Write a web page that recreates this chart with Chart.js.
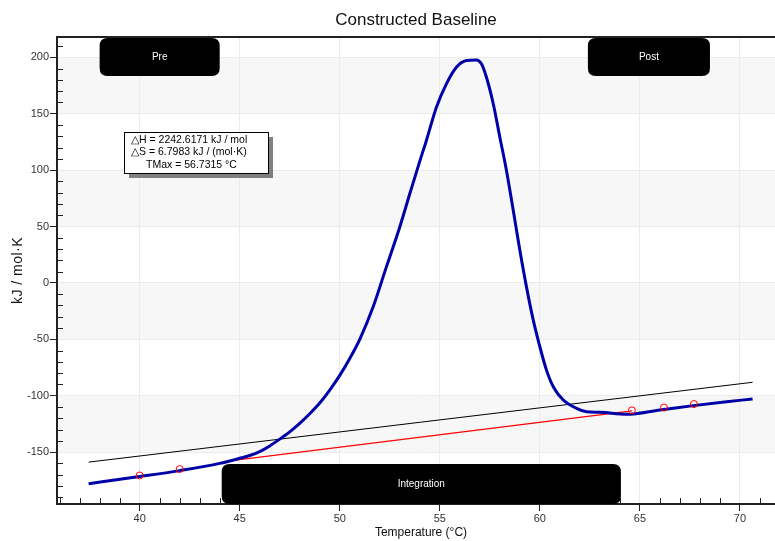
<!DOCTYPE html>
<html>
<head>
<meta charset="utf-8">
<script src="https://cdn.jsdelivr.net/npm/chart.js@4.4.1/dist/chart.umd.min.js"></script>
<style>
  html, body { margin: 0; padding: 0; background: #fff; }
  #wrap { width: 775px; height: 541px; position: relative; }
</style>
</head>
<body>
<div id="wrap"><canvas id="dscChart" width="775" height="541"></canvas></div>
<script>
// Thermogram (blue)
const temperature = [37.45, 40, 42, 44, 45, 45.5, 46, 46.5, 47, 47.5, 48, 48.5, 49, 49.5, 50, 50.5, 51, 51.67, 52.33, 53, 53.5, 54,
    54.33, 54.83, 55.33, 55.83, 56.33, 56.83, 57.08, 57.33, 57.67, 58, 58.33, 58.67, 59, 59.33, 59.67, 60, 60.33, 60.67,
    61.17, 61.83, 62.33, 63, 64.33, 66, 67.67, 69.33, 70.63];
const heatCapacity = [-178, -171.7, -166.4, -160, -155.5, -153, -149.5, -144.5, -138.5, -132, -124.5, -116, -106.5, -95, -82, -67, -50, -21.2, 14.2, 49.6, 79, 108,
    126.3, 155.8, 176.5, 191.2, 197.1, 197.7, 194.2, 182.3, 158.8, 129.2, 99.7, 64.3, 28.9, -3.5, -33, -56.6, -77.3, -92,
    -103.8, -111.2, -114.2, -114.7, -116.5, -112.7, -108.8, -105.3, -102.9];

// Straight baseline (thin black)
const baselineTemp = [37.45, 70.63];
const baselineValue = [-158.9, -88.1];

// Constructed baseline under the peak (red)
const integrationLineTemp = [44.2, 64.6];
const integrationLineValue = [-158.5, -113.5];

// Selected baseline points (red circles)
const pointTemp = [40.0, 42.0, 64.6, 66.2, 67.7];
const pointValue = [-170.7, -165.0, -113.0, -110.5, -107.4];

const xTicks = [40, 45, 50, 55, 60, 65, 70];
const yTicks = [-150, -100, -50, 0, 50, 100, 150, 200];

// Region markers (temperature ranges)
const preRegion = [38.0, 44.0];
const postRegion = [62.4, 68.5];
const integrationRegion = [44.1, 64.05];

const resultLines = ['\u25B3H = 2242.6171 kJ / mol', '\u25B3S = 6.7983 kJ / (mol\u00B7K)', 'TMax = 56.7315 \u00B0C'];

const FONT = "'Liberation Sans', Arial, sans-serif";

function toPoints(xs, ys) {
    return xs.map((x, i) => ({ x: x, y: ys[i] }));
}

function roundRect(ctx, x, y, w, h, r) {
    ctx.beginPath();
    ctx.moveTo(x + r, y);
    ctx.lineTo(x + w - r, y);
    ctx.quadraticCurveTo(x + w, y, x + w, y + r);
    ctx.lineTo(x + w, y + h - r);
    ctx.quadraticCurveTo(x + w, y + h, x + w - r, y + h);
    ctx.lineTo(x + r, y + h);
    ctx.quadraticCurveTo(x, y + h, x, y + h - r);
    ctx.lineTo(x, y + r);
    ctx.quadraticCurveTo(x, y, x + r, y);
    ctx.closePath();
}

// Alternating bands behind the grid
const bandsPlugin = {
    id: 'bands',
    beforeDraw(chart) {
        const { ctx, chartArea, scales } = chart;
        const y = scales.y;
        ctx.save();
        ctx.fillStyle = '#f7f7f7';
        for (let i = 0; i < yTicks.length - 1; i++) {
            if (i % 2 === 0) {
                const top = y.getPixelForValue(yTicks[i + 1]);
                const bottom = y.getPixelForValue(yTicks[i]);
                ctx.fillRect(chartArea.left, top, chartArea.right - chartArea.left, bottom - top);
            }
        }
        ctx.restore();
    }
};

// Frame, minor ticks, titles, region boxes and the result box
const overlayPlugin = {
    id: 'overlay',
    afterDraw(chart) {
        const { ctx, chartArea, scales } = chart;
        const x = scales.x, y = scales.y;
        ctx.save();

        // top frame line
        ctx.strokeStyle = '#222';
        ctx.lineWidth = 2;
        ctx.beginPath();
        ctx.moveTo(chartArea.left, chartArea.top);
        ctx.lineTo(chartArea.right, chartArea.top);
        ctx.stroke();

        // minor ticks, pointing inwards
        ctx.lineWidth = 1;
        ctx.beginPath();
        for (let v = -190; v <= 210; v += 10) {
            if (v % 50 === 0) continue;
            const py = Math.round(y.getPixelForValue(v)) + 0.5;
            ctx.moveTo(chartArea.left, py);
            ctx.lineTo(chartArea.left + 6, py);
        }
        for (let v = 36; v <= 71; v++) {
            if (v % 5 === 0) continue;
            const px = Math.round(x.getPixelForValue(v)) + 0.5;
            ctx.moveTo(px, chartArea.bottom);
            ctx.lineTo(px, chartArea.bottom - 6);
        }
        ctx.stroke();

        // titles
        ctx.fillStyle = '#111';
        ctx.textAlign = 'center';
        ctx.textBaseline = 'middle';
        ctx.font = '17px ' + FONT;
        ctx.fillText('Constructed Baseline', (chartArea.left + chartArea.right) / 2, 20);
        ctx.font = '12px ' + FONT;
        ctx.fillText('Temperature (\u00B0C)', (chartArea.left + chartArea.right) / 2 + 5, 533);
        ctx.save();
        ctx.translate(18, (chartArea.top + chartArea.bottom) / 2);
        ctx.rotate(-Math.PI / 2);
        ctx.font = '14px ' + FONT;
        ctx.letterSpacing = '0.5px';
        ctx.fillText('kJ / mol\u00B7K', 0, 0);
        ctx.restore();

        // region boxes
        const drawRegion = (range, top, bottom, label) => {
            const l = x.getPixelForValue(range[0]);
            const r = x.getPixelForValue(range[1]);
            ctx.fillStyle = '#000';
            roundRect(ctx, l, top, r - l, bottom - top, 8);
            ctx.fill();
            ctx.fillStyle = '#fff';
            ctx.font = '10px ' + FONT;
            ctx.fillText(label, (l + r) / 2, (top + bottom) / 2);
        };
        drawRegion(preRegion, chartArea.top + 1, chartArea.top + 39, 'Pre');
        drawRegion(postRegion, chartArea.top + 1, chartArea.top + 39, 'Post');
        drawRegion(integrationRegion, chartArea.bottom - 40, chartArea.bottom, 'Integration');

        // result box with shadow
        const bx = chartArea.left + 67, by = chartArea.top + 95, bw = 144, bh = 41;
        ctx.fillStyle = '#808080';
        ctx.fillRect(bx + 5, by + 5, bw, bh);
        ctx.fillStyle = '#fff';
        ctx.fillRect(bx, by, bw, bh);
        ctx.strokeStyle = '#000';
        ctx.lineWidth = 1;
        ctx.strokeRect(bx + 0.5, by + 0.5, bw, bh);
        ctx.fillStyle = '#000';
        ctx.textAlign = 'left';
        ctx.font = '10.5px ' + FONT;
        ctx.fillText(resultLines[0], bx + 7, by + 8);
        ctx.fillText(resultLines[1], bx + 7, by + 20);
        ctx.fillText(resultLines[2], bx + 22, by + 33);

        ctx.restore();
    }
};

const ctx = document.getElementById('dscChart').getContext('2d');
const dscChart = new Chart(ctx, {
    type: 'line',
    data: {
        datasets: [
            {
                label: 'Baseline points',
                data: toPoints(pointTemp, pointValue),
                showLine: false,
                pointRadius: 3.5,
                pointBorderColor: '#ff0000',
                pointBackgroundColor: 'rgba(0,0,0,0)',
                pointBorderWidth: 1,
                order: 1
            },
            {
                label: 'Thermogram',
                data: toPoints(temperature, heatCapacity),
                borderColor: '#0000a8',
                borderWidth: 3,
                pointRadius: 0,
                cubicInterpolationMode: 'monotone',
                order: 2
            },
            {
                label: 'Constructed baseline',
                data: toPoints(integrationLineTemp, integrationLineValue),
                borderColor: '#ff0000',
                borderWidth: 1.3,
                pointRadius: 0,
                order: 3
            },
            {
                label: 'Linear baseline',
                data: toPoints(baselineTemp, baselineValue),
                borderColor: '#000',
                borderWidth: 1,
                pointRadius: 0,
                order: 4
            }
        ]
    },
    options: {
        responsive: false,
        animation: false,
        devicePixelRatio: 1,
        layout: { autoPadding: false, padding: { top: 37, left: 0, right: 0, bottom: 0 } },
        plugins: {
            legend: { display: false },
            title: { display: false },
            tooltip: { enabled: false }
        },
        scales: {
            x: {
                type: 'linear',
                min: 35.87,
                max: 71.75,
                afterBuildTicks: (scale) => { scale.ticks = xTicks.map(v => ({ value: v })); },
                afterFit: (scale) => { scale.height = 37; scale.paddingLeft = 0; scale.paddingRight = 0; },
                ticks: { color: '#333', font: { family: FONT, size: 11 }, padding: 1, maxRotation: 0 },
                grid: { color: '#ebebeb', lineWidth: 1, drawTicks: true, tickLength: 7, tickColor: '#222', tickWidth: 1 },
                border: { display: true, color: '#222', width: 2 }
            },
            y: {
                type: 'linear',
                min: -196,
                max: 218,
                afterBuildTicks: (scale) => { scale.ticks = yTicks.map(v => ({ value: v })); },
                afterFit: (scale) => { scale.width = 57; scale.paddingTop = 0; scale.paddingBottom = 0; },
                ticks: { color: '#333', font: { family: FONT, size: 11 }, padding: 1 },
                grid: { color: '#ebebeb', lineWidth: 1, drawTicks: true, tickLength: 7, tickColor: '#222', tickWidth: 1 },
                border: { display: true, color: '#222', width: 2 }
            }
        }
    },
    plugins: [bandsPlugin, overlayPlugin]
});
</script>
</body>
</html>
